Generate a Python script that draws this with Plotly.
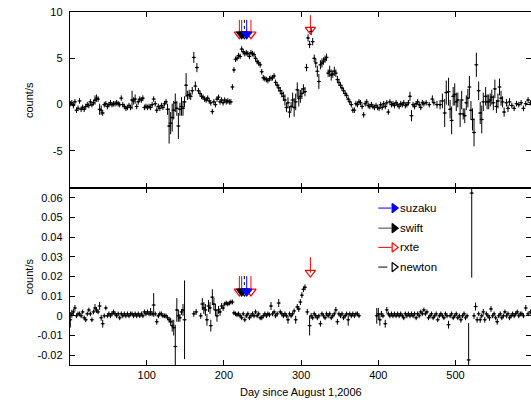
import plotly.graph_objects as go

# ---------------- Upper panel: count/s ----------------
top_day = [
    1, 3, 5, 7, 9, 11, 13, 15, 17, 19, 21, 23, 25, 27, 29, 31, 33, 35, 37, 39,
    41, 43, 45, 47, 49, 51, 53, 55, 57, 59, 61,
    63, 65, 67, 69, 71, 73, 75, 77, 79, 81, 83, 85, 87, 89, 91, 93, 95, 97, 99, 101,
    103, 105, 107, 109, 111, 113, 115, 117, 119, 121, 123, 125,
    127, 129, 131, 133, 135, 137, 139, 141, 143, 145, 147, 149, 151, 153, 155, 157, 159, 161, 163, 165,
    167, 169, 171, 173, 175, 177, 179, 181, 183, 185, 187, 189, 191, 193, 195, 197, 199, 201, 203, 205,
    207, 209,
    211, 213, 215, 217, 219, 221, 223, 225, 227, 229, 231, 233, 235, 237, 239, 241, 243, 245, 247, 249,
    251, 253, 255, 257, 259, 261, 263, 265, 267, 269, 271, 273, 275, 277, 279, 281, 283, 285, 287, 289,
    291, 293, 295, 297, 299, 301, 303, 305,
    307, 309, 311, 313, 315, 317, 319, 321, 323, 325, 327, 329, 331, 333, 335, 337, 339, 341, 343, 345,
    347, 349, 351, 353, 355, 357, 359, 361, 363, 365, 367, 369, 371, 373, 375, 377, 379, 381, 383, 385,
    387, 389, 391, 393, 395, 397, 399,
    401, 403, 405, 407, 409, 411, 413, 415, 417, 419, 421, 423, 425, 427, 429, 431, 433, 435, 437, 439,
    441, 443, 445, 447, 449, 451, 453, 455, 457, 459,
    462, 466, 470, 472, 476, 480, 483, 486, 488, 491, 493, 495, 497, 499, 501, 503, 506, 508, 510, 512,
    514, 516, 518, 520, 522, 524, 527, 530, 532, 534, 536, 539, 541, 543, 545, 547, 549, 551, 553, 555,
    557, 559, 561, 563, 566, 568, 570, 573, 576, 579, 582, 585, 588, 591, 594, 597,
]
top_rate = [
    0.1, 0.2, -0.1, 0.3, -0.6, -0.4, 0.4, -0.5, -0.3, -0.5, -0.2, 0.0, -0.1, 0.3, 0.0, 0.2, 0.5, 0.7, 0.6, -0.5,
    -0.6, -0.9, 0.0, 0.1, -0.2, 0.0, 0.2, 0.0, 0.1, 0.1, 0.2,
    0.1, 0.0, 0.7, 0.0, -0.2, -0.4, -0.3, -0.1, -0.3, 0.5, 0.4, 0.6, -0.2, 0.3, 0.6, 0.5, 0.7, -0.3, -0.2, -0.3,
    -0.2, -0.3, 0.0, 0.6, 0.1, -0.6, -0.2, -0.4, -0.1, -0.3, 0.1, 0.3,
    -0.5, -2.3, -2.0, -1.4, -0.6, 0.2, -0.4, -2.3, -0.5, -0.2, -0.4, 0.3, 2.1, 1.0, 1.1, 0.9, 1.5, 5.1, 2.0, 4.0,
    1.5, 1.2, 0.9, 0.8, 0.6, 0.5, 0.7, 0.4, 0.2, -0.75, 0.3, 0.0, 0.6, 0.8, 0.3, 0.5, 0.2, 0.5, 0.3, 0.4,
    0.3, 0.3,
    1.9, 3.75, 4.9, 5.0, 5.3, 5.2, 6.0, 5.7, 5.5, 5.6, 5.5, 5.2, 5.6, 5.5, 5.4, 5.0, 4.65, 4.5, 4.3, 3.55,
    2.9, 2.8, 2.7, 2.6, 2.8, 2.85, 2.9, 3.1, 2.4, 2.1, 1.8, 1.5, 1.2, 0.9, 0.5, -0.3, 0.2, -0.8, -0.2, 0.5,
    -0.3, 0.3, 1.6, 0.7, 0.9, 1.2, 1.7, 1.4,
    4.0, 7.2, 6.5, 7.9, 6.8, 5.0, 4.5, 3.6, 2.5, 4.3, 4.5, 4.7, 4.9, 5.1, 3.4, 3.6, 3.2, 3.3, 3.6, 3.4,
    2.7, 2.4, 2.1, 1.8, 1.5, 1.2, 1.0, 0.6, 0.3, 0.0, -0.6, -0.6, 0.1, 0.0, 0.3, 0.2, -0.2, -1.1, 0.1, 0.3,
    -0.1, -0.2, 0.0, -0.2, -0.3, -0.1, -0.3,
    -0.4, 0.0, -0.3, 0.1, -0.2, 0.2, -0.8, 0.3, 0.0, 0.1, -0.1, 0.2, 0.0, -0.2, 0.1, 0.0, 0.2, -0.1, 0.0, 0.2,
    0.9, -1.2, 0.0, -0.2, 0.1, 0.3, 0.0, -0.3, 0.2, 0.1,
    0.2, 0.0, 0.6, 0.2, 0.0, 0.0, 0.4, -0.9, 1.3, 1.4, -0.5, -1.7, 0.9, 1.1, 0.3, 0.5, -1.0, 0.5, -1.0, -1.2,
    0.2, 0.7, 1.9, -0.6, -1.6, -3.0, 4.3, 1.5, -0.9, -1.6, 0.3, 0.9, 0.3, 0.3, 0.5, 0.8, 0.2, 1.7, -0.2, 0.4,
    1.9, 0.7, 0.3, -0.8, 0.2, -0.4, 0.3, -0.1, -0.4, 0.1, 0.0, 0.2, -0.4, 0.1, 0.5, 0.2,
]
top_err = [
    0.3, 0.3, 0.3, 0.3, 0.3, 0.3, 0.3, 0.3, 0.3, 0.3, 0.3, 0.3, 0.3, 0.3, 0.3, 0.3, 0.5, 0.4, 0.3, 0.6,
    0.5, 0.3, 0.3, 0.3, 0.3, 0.3, 0.3, 0.3, 0.3, 0.3, 0.3,
    0.3, 0.3, 0.3, 0.3, 0.3, 0.3, 0.3, 0.3, 0.3, 1.0, 0.4, 0.5, 0.3, 0.3, 0.3, 0.3, 0.3, 0.3, 0.3, 0.3,
    0.3, 0.3, 0.3, 0.3, 0.3, 0.3, 0.3, 0.3, 0.3, 0.3, 0.3, 0.3,
    0.6, 1.9, 1.2, 1.5, 1.0, 1.0, 0.8, 1.4, 0.7, 1.0, 0.8, 0.6, 1.3, 0.5, 0.5, 0.4, 0.4, 0.6, 0.5, 0.5,
    0.3, 0.3, 0.3, 0.3, 0.3, 0.3, 0.3, 0.3, 0.3, 0.3, 0.3, 0.3, 0.3, 0.3, 0.3, 0.3, 0.3, 0.3, 0.3, 0.3,
    0.3, 0.3,
    0.3, 0.3, 0.3, 0.3, 0.3, 0.3, 0.3, 0.3, 0.3, 0.3, 0.3, 0.3, 0.3, 0.3, 0.3, 0.3, 0.3, 0.3, 0.3, 0.3,
    0.3, 0.3, 0.3, 0.3, 0.3, 0.3, 0.3, 0.3, 0.3, 0.3, 0.4, 0.4, 0.4, 0.5, 0.6, 0.5, 0.6, 0.6, 0.5, 0.8,
    1.0, 0.9, 0.8, 0.9, 0.7, 0.6, 0.5, 0.5,
    0.4, 0.4, 0.4, 0.4, 0.4, 0.4, 0.5, 0.6, 0.8, 0.5, 0.5, 0.4, 0.4, 0.4, 0.4, 0.6, 0.6, 0.4, 0.5, 0.4,
    0.4, 0.4, 0.3, 0.3, 0.3, 0.3, 0.3, 0.3, 0.3, 0.3, 0.3, 0.3, 0.3, 0.3, 0.3, 0.3, 0.3, 0.3, 0.3, 0.3,
    0.3, 0.3, 0.3, 0.3, 0.3, 0.3, 0.3,
    0.3, 0.3, 0.3, 0.3, 0.3, 0.3, 0.3, 0.3, 0.3, 0.3, 0.3, 0.3, 0.3, 0.3, 0.3, 0.3, 0.3, 0.3, 0.3, 0.3,
    0.5, 0.6, 0.3, 0.3, 0.3, 0.3, 0.3, 0.3, 0.3, 0.3,
    0.3, 0.3, 0.4, 0.3, 0.4, 0.5, 0.8, 1.5, 1.3, 1.5, 1.0, 1.5, 1.0, 1.2, 1.0, 0.8, 1.4, 1.0, 0.6, 0.8,
    0.8, 1.0, 1.2, 1.0, 1.2, 1.5, 1.3, 1.0, 1.2, 1.5, 1.0, 1.0, 0.8, 0.8, 0.7, 0.8, 0.8, 1.0, 0.7, 0.8,
    0.9, 0.8, 0.6, 0.5, 0.4, 0.4, 0.4, 0.3, 0.3, 0.3, 0.3, 0.3, 0.3, 0.3, 0.3, 0.3,
]

# ---------------- Lower panel: count/s ----------------
bot_day = [
    1, 3, 5, 7, 9, 11, 13, 15, 17, 19, 21, 23, 25, 27, 29, 31, 33, 35, 37, 39,
    41, 43, 45, 47, 49, 51, 53, 55, 57, 59, 61,
    63, 65, 67, 69, 71, 73, 75, 77, 79, 81, 83, 85, 87, 89, 91, 93, 95, 97, 99, 101,
    103, 105, 107, 109, 111, 113, 115, 117, 119, 121, 123, 125,
    127, 129, 131, 133, 135, 137, 139, 141, 143, 145, 147, 149,
    161, 164, 170, 172, 174, 176, 178, 180, 182, 183, 185, 187, 189, 191, 193, 195, 197, 199, 201, 203,
    205, 207, 209, 211,
    213, 215, 217, 219, 221, 223, 225, 227, 229, 231, 233, 235, 237, 239, 241, 243, 245, 247, 249, 251,
    253, 255, 257, 259, 261, 263, 265, 267, 269, 271, 273, 275, 277, 279, 281, 283, 285, 287, 289, 291,
    293, 295, 297, 299, 301, 303, 305,
    308, 311, 313, 315, 317, 319, 321, 323, 325, 327, 329, 331, 333, 335, 337, 339, 341, 343, 345, 347,
    349, 351, 353, 355, 357, 359, 361, 363, 365, 367, 369, 371, 373, 375,
    398, 400, 402, 404, 406, 409, 411, 413, 415, 417, 419, 421, 423, 425, 427, 429, 431, 433, 435, 437,
    439, 441, 443, 445, 447, 449, 451, 453, 455, 457, 459, 461, 463, 465, 467, 469, 471, 473, 475, 477,
    479, 481, 483, 485, 487, 489, 491, 493, 495, 497, 499, 501, 503, 505, 507, 509, 511, 513, 515,
    517, 521, 524, 526, 528, 530, 532, 534, 536, 538, 540, 542, 544, 546, 548, 550, 552, 554, 556, 558,
    560, 562, 564, 566, 568, 570, 572, 574, 576, 578, 580, 582, 584, 586, 588, 591, 594, 597,
]
bot_rate = [
    -0.002, 0.001, 0.002, 0.004, 0.000, 0.001, 0.001, 0.000, 0.002, -0.001,
    -0.002, 0.001, 0.003, 0.001, -0.002, 0.002, 0.004, 0.003, 0.002, 0.005,
    -0.001, -0.004, 0.000, 0.004, 0.000, 0.001, 0.000, 0.001, 0.002, 0.001, 0.000,
    0.001, -0.001, 0.001, 0.000, 0.001, 0.000, 0.001, 0.000, 0.001, 0.001,
    0.000, 0.001, 0.000, 0.001, 0.000, 0.001, 0.000, 0.002, 0.001, 0.002,
    0.001, 0.002, 0.001, 0.0055, 0.001, -0.003, 0.000, 0.001, 0.001, 0.000, 0.000, 0.000,
    -0.001, -0.002, -0.003, -0.005, -0.006, -0.0156, 0.003, 0.000, -0.001, 0.002, 0.003, -0.002,
    0.001, 0.002, 0.000, 0.006, 0.004, 0.003, -0.002, 0.005, 0.004, -0.005,
    0.0095, 0.006, 0.003, 0.000, 0.003, 0.002, 0.005, 0.004, 0.006, 0.0065, 0.006, 0.0065, 0.007, 0.007,
    0.0015, 0.001, 0.0005, 0.001, 0.000, -0.001, 0.001, -0.002, 0.000, 0.001,
    -0.001, 0.000, 0.001, 0.000, 0.002, 0.000, 0.001, -0.001, -0.001, 0.000,
    0.001, 0.000, 0.001, 0.0005, 0.005, 0.001, 0.002, 0.000, 0.001, 0.0065,
    0.002, 0.001, 0.000, 0.001, 0.000, -0.002, 0.001, 0.000, 0.001, 0.0025,
    -0.002, 0.0045, 0.0035, 0.007, 0.0105, 0.0135, 0.0145,
    0.002, -0.005, 0.000, -0.001, 0.001, 0.000, -0.001, 0.000, -0.004, 0.001,
    0.000, -0.001, 0.001, 0.000, 0.001, -0.001, 0.000, 0.001, 0.003, -0.003,
    0.001, 0.000, 0.001, -0.001, 0.000, 0.001, -0.002, 0.001, 0.000, 0.001, 0.000, 0.001, 0.001, 0.000,
    0.000, 0.001, -0.002, 0.001, 0.000, -0.004, 0.003, 0.001, 0.000, 0.001,
    0.000, 0.001, 0.000, 0.001, 0.000, 0.001, 0.000, -0.001, 0.001, 0.000,
    0.001, 0.000, 0.001, 0.000, 0.001, -0.001, 0.001, 0.000, 0.002, 0.001,
    0.003, 0.001, 0.002, -0.001, 0.000, 0.001, -0.001, 0.000, 0.001, -0.002,
    0.000, 0.001, 0.000, -0.001, 0.001, 0.000, -0.0045, 0.000, 0.001, -0.001,
    0.000, 0.001, -0.001, 0.000, -0.002, 0.000, 0.001, -0.001, 0.000,
    -0.0224, 0.0624, 0.000, 0.0047, -0.002, 0.001, -0.002, 0.000, 0.002, -0.002,
    0.001, 0.000, -0.001, 0.0035, 0.000, 0.001, -0.001, -0.003, 0.000, 0.001,
    -0.001, 0.000, 0.002, 0.000, 0.001, -0.001, 0.000, 0.001, 0.000, 0.001,
    0.002, 0.000, 0.001, 0.001, 0.000, 0.004, 0.001, 0.002,
]
bot_err = [
    0.004, 0.002, 0.0015, 0.0015, 0.0012, 0.0012, 0.0012, 0.0012, 0.0012, 0.0012,
    0.0012, 0.0012, 0.0012, 0.0012, 0.0012, 0.0012, 0.002, 0.0015, 0.0012, 0.002,
    0.0015, 0.002, 0.0012, 0.0012, 0.0012, 0.0012, 0.0012, 0.0012, 0.0012, 0.0012, 0.0012,
    0.0012, 0.0012, 0.0012, 0.0012, 0.0012, 0.0012, 0.0012, 0.0012, 0.0012, 0.0012,
    0.0012, 0.0012, 0.0012, 0.0012, 0.0012, 0.0012, 0.0012, 0.0012, 0.0012, 0.0012,
    0.0012, 0.002, 0.0012, 0.006, 0.0012, 0.0015, 0.0012, 0.0012, 0.0012, 0.0012, 0.0012, 0.0012,
    0.0012, 0.0015, 0.002, 0.003, 0.004, 0.011, 0.006, 0.003, 0.002, 0.0015, 0.003, 0.02,
    0.0015, 0.0015, 0.0015, 0.003, 0.003, 0.003, 0.003, 0.003, 0.003, 0.003,
    0.004, 0.003, 0.003, 0.003, 0.002, 0.002, 0.0015, 0.0015, 0.0012, 0.0012, 0.0012, 0.0012, 0.0012, 0.0012,
    0.0012, 0.0012, 0.0012, 0.0012, 0.0012, 0.0012, 0.0012, 0.0012, 0.0012, 0.0012,
    0.0012, 0.0012, 0.0012, 0.0012, 0.0012, 0.0012, 0.0012, 0.0012, 0.0012, 0.0012,
    0.0012, 0.0012, 0.0012, 0.0012, 0.002, 0.0012, 0.0012, 0.0012, 0.0012, 0.002,
    0.0012, 0.0012, 0.0012, 0.0012, 0.0012, 0.002, 0.0012, 0.0012, 0.0012, 0.0012,
    0.002, 0.0015, 0.0015, 0.0015, 0.0015, 0.0015, 0.0015,
    0.0015, 0.005, 0.0015, 0.0012, 0.0012, 0.0012, 0.0012, 0.0012, 0.0015, 0.0012,
    0.0012, 0.0012, 0.0012, 0.0012, 0.0012, 0.0012, 0.0012, 0.0012, 0.0015, 0.0015,
    0.0012, 0.0012, 0.0012, 0.0012, 0.0012, 0.0012, 0.003, 0.0012, 0.0012, 0.0012, 0.0012, 0.0012, 0.0012, 0.0012,
    0.004, 0.003, 0.003, 0.0015, 0.0012, 0.002, 0.0015, 0.0012, 0.0012, 0.0012,
    0.0012, 0.0012, 0.0012, 0.0012, 0.0012, 0.0012, 0.0012, 0.0012, 0.0012, 0.0012,
    0.0012, 0.0012, 0.0012, 0.0012, 0.0012, 0.0012, 0.0012, 0.0012, 0.0012, 0.0012,
    0.0012, 0.0012, 0.0012, 0.0012, 0.0012, 0.0012, 0.0012, 0.0012, 0.0012, 0.0012,
    0.0012, 0.0012, 0.0012, 0.0012, 0.0012, 0.0012, 0.002, 0.0012, 0.0012, 0.0012,
    0.0012, 0.0012, 0.0012, 0.0012, 0.0015, 0.0012, 0.0012, 0.0012, 0.0012,
    0.0187, 0.043, 0.0015, 0.002, 0.0015, 0.0012, 0.0015, 0.0012, 0.0015, 0.0015,
    0.0012, 0.0012, 0.0015, 0.0015, 0.0012, 0.0012, 0.0012, 0.0015, 0.0012, 0.0012,
    0.0012, 0.0012, 0.0012, 0.0012, 0.0012, 0.0012, 0.0012, 0.0012, 0.0012, 0.0012,
    0.0012, 0.0012, 0.0012, 0.0012, 0.0012, 0.0015, 0.0012, 0.0012,
]
bin_halfwidth = 2.5  # days

# ---------------- Observation markers ----------------
missions = ["suzaku", "swift", "rxte", "newton"]
obs_mission = ["rxte", "swift", "newton", "suzaku", "rxte", "rxte"]
obs_day = [220, 223, 226.5, 229.5, 235, 312]
obs_top_y = [7.6, 7.6, 7.6, 7.6, 7.6, 8.1]
obs_bot_y = [0.0124, 0.0124, 0.0124, 0.0124, 0.0124, 0.022]

FONT = "Liberation Sans, Arial, sans-serif"
style = {
    "suzaku": dict(line="blue", marker="blue", fill=True, dash="solid"),
    "swift": dict(line="#444444", marker="black", fill=True, dash="solid"),
    "rxte": dict(line="red", marker="red", fill=False, dash="solid"),
    "newton": dict(line="black", marker="black", fill=False, dash="dash"),
}

fig = go.Figure()

ebar = dict(color="black", thickness=1, width=0)
fig.add_trace(go.Scatter(
    x=top_day, y=top_rate, mode="markers", xaxis="x", yaxis="y",
    marker=dict(size=2, color="black"),
    error_y=dict(type="data", array=top_err, **ebar),
    error_x=dict(type="constant", value=bin_halfwidth, **ebar),
    showlegend=False, hoverinfo="skip"))
fig.add_trace(go.Scatter(
    x=bot_day, y=bot_rate, mode="markers", xaxis="x2", yaxis="y2",
    marker=dict(size=2, color="black"),
    error_y=dict(type="data", array=bot_err, **ebar),
    error_x=dict(type="constant", value=bin_halfwidth, **ebar),
    showlegend=False, hoverinfo="skip"))

# arrows: shaft above a down-pointing triangle
TOP_SHAFT = 1.55     # in upper-panel units (~14 px)
BOT_SHAFT = 0.0078   # in lower-panel units (~15 px)
for m in ["rxte", "newton", "swift", "suzaku"]:
    st = style[m]
    idx = [i for i, o in enumerate(obs_mission) if o == m]
    for ax, ys, shaft in (("", obs_top_y, TOP_SHAFT), ("2", obs_bot_y, BOT_SHAFT)):
        lx, ly = [], []
        for i in idx:
            lx += [obs_day[i], obs_day[i], None]
            ly += [ys[i] + shaft, ys[i], None]
        fig.add_trace(go.Scatter(
            x=lx, y=ly, mode="lines", xaxis="x" + ax, yaxis="y" + ax,
            line=dict(color=st["line"], width=1, dash="dot" if st["dash"] == "dash" else "solid"),
            showlegend=False, hoverinfo="skip"))
        fig.add_trace(go.Scatter(
            x=[obs_day[i] for i in idx], y=[ys[i] for i in idx], mode="markers",
            xaxis="x" + ax, yaxis="y" + ax,
            marker=dict(symbol="triangle-down" if st["fill"] else "triangle-down-open",
                        size=9, color=st["marker"], line=dict(color=st["marker"], width=1.2)),
            showlegend=False, hoverinfo="skip"))

# legend drawn inside lower panel
leg_y = [0.0548, 0.0446, 0.0348, 0.0248]
leg_x0, leg_x1, leg_tri, leg_txt = 400, 417, 420.5, 425
for m, yy in zip(missions, leg_y):
    st = style[m]
    fig.add_trace(go.Scatter(
        x=[leg_x0, leg_x1], y=[yy, yy], mode="lines", xaxis="x2", yaxis="y2",
        line=dict(color=st["line"], width=1, dash="dash" if st["dash"] == "dash" else "solid"),
        showlegend=False, hoverinfo="skip"))
    fig.add_trace(go.Scatter(
        x=[leg_tri], y=[yy], mode="markers", xaxis="x2", yaxis="y2",
        marker=dict(symbol="triangle-right" if st["fill"] else "triangle-right-open",
                    size=8, color=st["marker"], line=dict(color=st["marker"], width=1.2)),
        showlegend=False, hoverinfo="skip"))
    fig.add_annotation(x=leg_txt, y=yy, xref="x2", yref="y2", text=m, showarrow=False,
                       xanchor="left", yanchor="middle", font=dict(size=11.5, color="black", family=FONT))

axis_common = dict(showgrid=False, zeroline=False, showline=True, linecolor="black", linewidth=1.2,
                   mirror="ticks", ticks="inside", ticklen=5, tickwidth=1, tickcolor="black",
                   tickfont=dict(size=11, color="black", family=FONT))
xticks = [100, 200, 300, 400, 500]
xr = [0.6, 597.8]
split = 0.5014
fig.update_layout(
    width=531, height=400, autosize=False,
    margin=dict(l=70, r=0, t=12, b=35, autoexpand=False),
    paper_bgcolor="white", plot_bgcolor="white",
    xaxis=dict(domain=[0, 1], range=xr, anchor="y", tickvals=xticks, showticklabels=False, **axis_common),
    xaxis2=dict(domain=[0, 1], range=xr, anchor="y2", tickvals=xticks, matches="x", **axis_common),
    yaxis=dict(domain=[split, 1], range=[-9, 10], anchor="x", tickvals=[-5, 0, 5, 10],
               ticktext=["-5", "0", "5", "10"], **axis_common),
    yaxis2=dict(domain=[0, split], range=[-0.025, 0.065], anchor="x2",
                tickvals=[-0.02, -0.01, 0, 0.01, 0.02, 0.03, 0.04, 0.05, 0.06],
                ticktext=["-0.02", "-0.01", "0", "0.01", "0.02", "0.03", "0.04", "0.05", "0.06"],
                **axis_common),
    showlegend=False,
)
for yc in (0.5 + split / 2, split / 2):
    fig.add_annotation(x=(29 - 70) / 461, y=yc, xref="paper", yref="paper", text="count/s",
                       textangle=-90, showarrow=False, xanchor="center", yanchor="middle",
                       font=dict(size=11, color="black", family=FONT))
fig.add_annotation(x=0.5, y=-(392 - 365) / 353, xref="paper", yref="paper",
                   text="Day since August 1,2006", showarrow=False, xanchor="center", yanchor="middle",
                   font=dict(size=11, color="black", family=FONT))
fig.update_yaxes(ticklabelstandoff=4)

fig.write_html(
    "out.html",
    config={"displayModeBar": False, "staticPlot": True},
    post_script="document.body.style.margin='0';document.body.style.overflow='hidden';",
)
